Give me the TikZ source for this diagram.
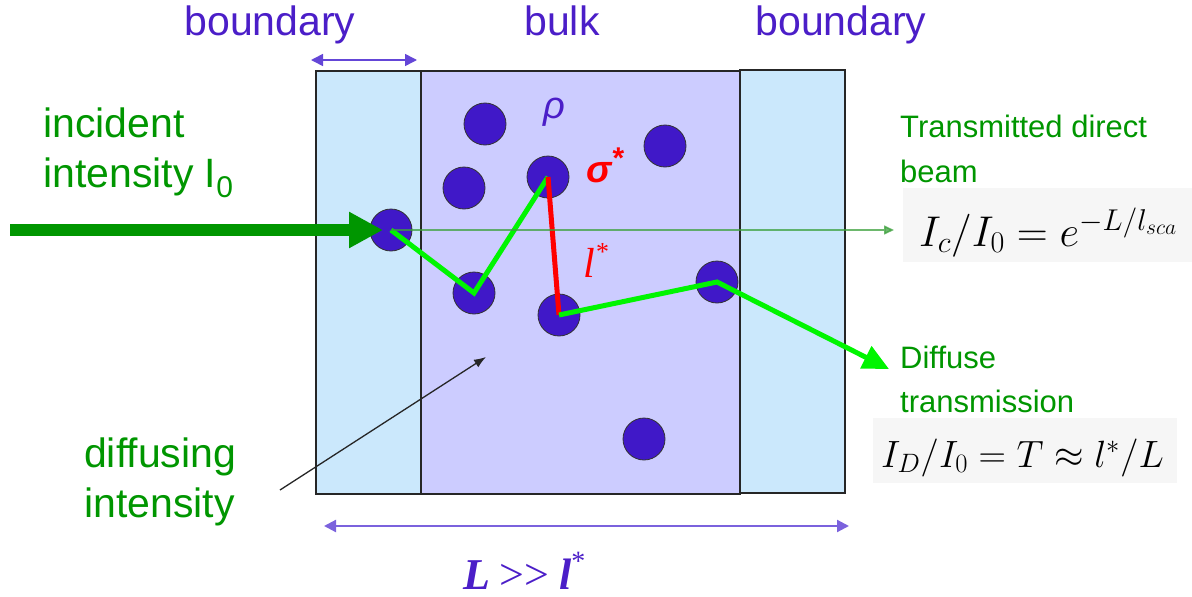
\RequirePackage{fix-cm}
\documentclass[tikz,border=0pt]{standalone}
\usepackage[no-math]{fontspec}
\setmainfont{Liberation Sans}
\newfontfamily\seriffam{Liberation Serif}
\usetikzlibrary{arrows.meta}
\definecolor{txtgreen}{RGB}{0,150,0}
\definecolor{txtpurple}{RGB}{75,30,200}
\definecolor{lblue}{RGB}{203,232,252}
\definecolor{lav}{RGB}{204,204,255}
\definecolor{partfill}{RGB}{64,24,200}
\definecolor{brightgreen}{RGB}{0,245,0}
\definecolor{thingreen}{RGB}{60,160,60}
\definecolor{arrpurple}{RGB}{100,70,215}
\definecolor{formbg}{RGB}{246,246,246}
\tikzset{
  particle/.style={circle, fill=partfill, draw=black!80, line width=0.8pt, minimum size=42pt, inner sep=0pt},
  slab/.style={draw=black!85, line width=1.4pt},
  gtext/.style={text=txtgreen, inner sep=0pt, anchor=base west, font=\fontsize{41}{49}\selectfont},
  gsmall/.style={text=txtgreen, inner sep=0pt, anchor=base west, font=\fontsize{31}{37}\selectfont},
  ptext/.style={text=txtpurple, inner sep=0pt, anchor=base, font=\fontsize{41}{49}\selectfont},
  formula/.style={inner sep=0pt, anchor=base west, font=\fontsize{38}{45}\selectfont},
  walk/.style={draw=brightgreen, line width=5pt},
  dimarrow/.style={draw=arrpurple, {Triangle[length=12pt,width=12pt]}-{Triangle[length=12pt,width=12pt]}, line width=1.6pt}
}
\begin{document}
\begin{tikzpicture}[x=1pt,y=-1pt]
\useasboundingbox (0,0) rectangle (1192,597);
% slabs
\draw[slab, fill=lblue] (316,71) rectangle (421,494);
\draw[slab, fill=lav] (421,71) rectangle (740,494);
\draw[slab, fill=lblue] (740,70) rectangle (845,493);
% formula backgrounds
\fill[formbg] (903,188) rectangle (1192,262);
\fill[formbg] (873,418) rectangle (1177,483);
% particles
\node[particle] (p1) at (391,230) {};
\node[particle] (p2) at (485,124) {};
\node[particle] (p3) at (464,188) {};
\node[particle] (p4) at (548,177) {};
\node[particle] (p5) at (665,146) {};
\node[particle] (p6) at (474,293) {};
\node[particle] (p7) at (559,315) {};
\node[particle] (p8) at (717,282) {};
\node[particle] (p9) at (644,439) {};
% random walk
\draw[walk] (p1.center) -- (p6.center) -- (p4.center);
\draw[red, line width=5pt] (p4.center) -- (p7.center);
\coordinate (dend) at (889,369);
\draw[walk, -{Triangle[length=26pt,width=24pt]}] (p7.center) -- (p8.center) -- (dend);
% incident beam
\coordinate (src) at (10,230);
\draw[txtgreen, line width=12pt, -{Triangle[length=34pt,width=34pt]}, shorten >=8pt] (src) -- (p1.center);
% transmitted direct beam
\coordinate (tend) at (894,230);
\draw[thingreen, opacity=0.75, line width=1.6pt, -{Triangle[length=10pt,width=9pt]}] (p1.center) -- (tend);
% diffusing intensity pointer
\coordinate (dstart) at (280,490);
\coordinate (dtip) at (486,357);
\draw[black!85, line width=1.3pt, -{Latex[length=12pt,width=9pt]}] (dstart) -- (dtip);
% dimension arrows
\coordinate (b1) at (311,60);
\coordinate (b2) at (417,60);
\draw[dimarrow] (b1) -- (b2);
\coordinate (L1) at (324,526);
\coordinate (L2) at (849,526);
\draw[dimarrow, line width=2.2pt, draw=arrpurple!85] (L1) -- (L2);
% labels top
\node[ptext] (tb1) at (270,35) {boundary};
\node[ptext] (tbulk) at (562,35) {bulk};
\node[ptext] (tb2) at (841,35) {boundary};
% symbols
\node[text=txtpurple, inner sep=0pt, anchor=base west, font=\fontsize{38}{45}\selectfont\itshape] (rho) at (543,118) {ρ};
\node[text=red, inner sep=0pt, anchor=base west, font=\fontsize{38}{45}\selectfont\bfseries\itshape] (sig) at (586,182) {σ\raisebox{0.35em}{\fontsize{30}{30}\selectfont*}};
\node[text=red, inner sep=0pt, anchor=base west, font=\fontsize{42}{50}\selectfont\seriffam\itshape] (lstar) at (583,277) {l\raisebox{0.4em}{\fontsize{26}{26}\selectfont*}};
% left labels
\node[gtext] (inc1) at (43,137) {incident};
\node[gtext] (inc2) at (43,187) {intensity I\raisebox{-0.25em}{\fontsize{30}{30}\selectfont 0}};
\node[gtext] (dif1) at (84,467) {diffusing};
\node[gtext] (dif2) at (84,517) {intensity};
% right labels
\node[gsmall] (tr1) at (900,137) {Transmitted direct};
\node[gsmall] (tr2) at (900,182) {beam};
\node[gsmall] (df1) at (900,368) {Diffuse};
\node[gsmall] (df2) at (900,412) {transmission};
\node[formula, font=\fontsize{43}{50}\selectfont] (f1) at (919,246) {$I_c/I_0=e^{-L/l_{sca}}$};
\node[formula] (f2) at (881,467) {$I_D/I_0=T\approx l^*/L$};
% L >> l*
\node[text=txtpurple, inner sep=0pt, anchor=base west, font=\fontsize{44}{52}\selectfont\seriffam] (Lrel) at (463,589) {\textbf{\textit{L}}\hspace{0.22em}>>\hspace{0.22em}\textbf{\textit{l}}\raisebox{0.42em}{\fontsize{28}{28}\selectfont*}};
\end{tikzpicture}
\end{document}
